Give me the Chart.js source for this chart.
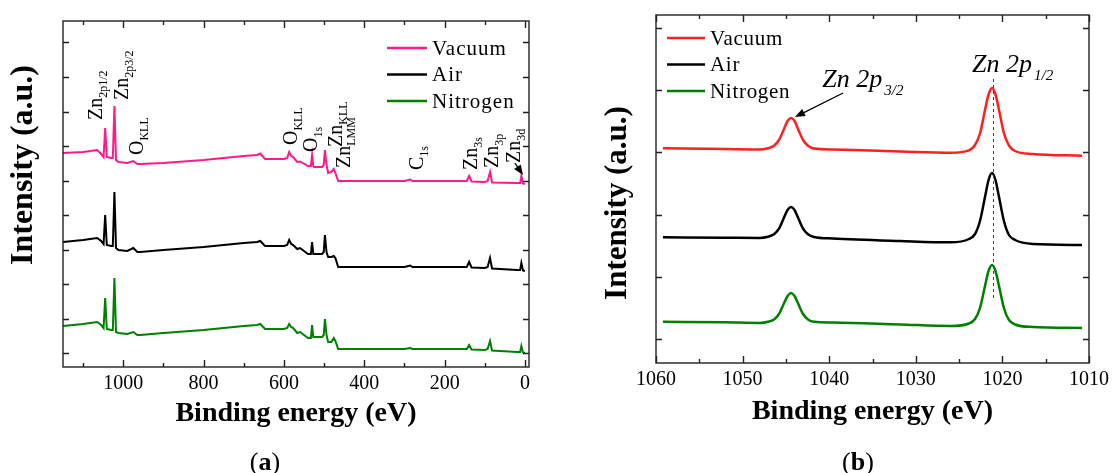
<!DOCTYPE html>
<html>
<head>
  <title>XPS spectra - ZnO films annealed in vacuum, air and nitrogen</title>
  <script src="https://cdn.jsdelivr.net/npm/chart.js"></script>
  <style>
    body {
      margin: 0;
      background: #fff;
    }

    .panel {
      position: absolute;
      top: 0;
      width: 556px;
      height: 473px;
    }

    #panelA { left: 0; }
    #panelB { left: 556px; }
  </style>
</head>
<body>
  <div class="panel" id="panelA"><canvas id="survey"></canvas></div>
  <div class="panel" id="panelB"><canvas id="zn2p"></canvas></div>

  <script>
    // (a) survey scan, binding energy in eV, intensity in arbitrary units
    const surveyEnergy = [1150, 1100, 1065, 1055, 1049, 1045, 1041, 1030, 1026, 1022,
      1018, 1012, 990, 975, 965, 958, 900, 800, 700, 667,
      659, 647, 600, 592, 587, 582, 577, 567, 560, 540,
      533, 530, 527, 525, 505, 501, 498, 494, 490, 482,
      476, 472, 465, 400, 300, 286, 280, 200, 145, 139,
      133, 100, 93, 87, 82, 20, 12, 9, 5, 0];
    const surveyVacuum = [200, 201, 203, 199, 196, 225, 196, 195, 195, 247,
      193, 191, 190, 192, 189, 189, 190, 193, 197, 198,
      199.5, 194, 194, 195, 201, 197, 196, 191, 191.5, 187,
      187, 198, 187, 186, 186, 188, 203, 188, 180, 181,
      184, 180, 172, 172, 172, 173.5, 172, 172, 172, 177,
      171.5, 171, 172, 181, 170.5, 170, 170, 177, 169.5, 169];
    const surveyAir = [111, 113, 115, 112, 109, 138, 108, 107, 107, 161,
      105, 103, 102, 105, 101, 101, 103, 106, 110, 111,
      112, 107, 107, 108, 113, 109, 108, 104, 105, 99,
      99, 111, 99, 99, 99, 101, 118, 101, 96, 96,
      97, 95, 86, 86, 86, 87.5, 86, 86, 86, 91,
      85.5, 85, 86, 95, 84.5, 83, 83, 90, 82.5, 82];
    const surveyNitrogen = [27, 29, 31, 28, 25, 55, 24, 23, 23, 75,
      21, 20, 19, 21, 18, 18, 20, 23, 27, 28,
      29, 24, 24, 25, 29, 26, 25, 20, 21, 15,
      15, 28, 16, 16, 16, 18, 34, 18, 11, 11,
      15, 12, 4, 4, 4, 5, 4, 4, 4, 8,
      3.5, 3, 4, 12, 2.5, 1, 1, 7, 0.5, 0];
    const surveyTicks = [0, 100, 200, 300, 400, 500, 600, 700, 800, 900, 1000, 1100];
    const surveyTickLabels = [0, 200, 400, 600, 800, 1000];
    const surveyLevels = [0, 34.5, 69, 103.5, 138, 172.5, 207, 241.5, 276, 310.5];

    // (b) Zn 2p region
    const zn2pEnergy = [1059.2, 1052, 1048, 1047.07, 1046.37, 1045.8, 1045.22, 1044.81, 1044.41, 1044.0,
      1043.6, 1043.02, 1042.45, 1041.75, 1039.6, 1031.8, 1026, 1023.86, 1023.16, 1022.59,
      1022.01, 1021.6, 1021.2, 1020.8, 1020.39, 1019.81, 1019.24, 1018.54, 1016.5, 1010.8];
    const zn2pVacuum = [190.7, 190, 189.5, 190.8, 193.3, 199, 210, 218, 221, 218,
      210, 199, 193.3, 190.5, 189.5, 187.5, 186.2, 188.6, 194, 205.5,
      229, 244.5, 251, 244.5, 229, 205.5, 193.5, 188, 185, 183.3];
    const zn2pAir = [101.7, 101.3, 101, 102.2, 104.7, 110.3, 121.4, 129, 132, 129,
      121.4, 110.3, 104.7, 102, 100.5, 98, 96.7, 100, 105, 118,
      142, 159, 166, 159, 142, 117.5, 104, 99, 95, 94];
    const zn2pNitrogen = [17.3, 16.7, 16, 17.2, 19.6, 25, 35.7, 43, 46, 43,
      35.7, 25, 19.6, 17.2, 16.5, 14.5, 13, 15.5, 20, 31,
      53, 68, 74, 68, 53, 30.5, 19, 14.5, 12, 11];
    const zn2pTicks = [1010, 1015, 1020, 1025, 1030, 1035, 1040, 1045, 1050, 1055, 1060];
    const zn2pTickLabels = [1010, 1020, 1030, 1040, 1050, 1060];
    const zn2pLevels = [0, 62.2, 124.4, 186.6, 248.8, 311];

    const seriesNames = ['Vacuum', 'Air', 'Nitrogen'];

    // peak assignments on the survey, anchored at (energy, intensity)
    const surveyPeakLabels = [
      { text: 'Zn', sub: '2p1/2', e: 1052, i: 233 },
      { text: 'Zn', sub: '2p3/2', e: 988, i: 253 },
      { text: 'O', sub: 'KLL', e: 950, i: 198 },
      { text: 'O', sub: 'KLL', e: 567, i: 208 },
      { text: 'O', sub: '1s', e: 517, i: 201 },
      { text: 'Zn', sub: 'KLL', e: 455, i: 206 },
      { text: 'Zn', sub: 'LMM', e: 435, i: 185 },
      { text: 'C', sub: '1s', e: 254, i: 183 },
      { text: 'Zn', sub: '3s', e: 119, i: 183 },
      { text: 'Zn', sub: '3p', e: 67, i: 185 },
      { text: 'Zn', sub: '3d', e: 12, i: 190 }
    ];
    const zn2pPeakLabels = [
      { text: 'Zn 2p', sub: '3/2', e: 1040.8, i: 252 },
      { text: 'Zn 2p', sub: '1/2', e: 1023.5, i: 267 }
    ];

    const serif = '"Liberation Serif", "Times New Roman", serif';
    Chart.defaults.font.family = serif;
    Chart.defaults.color = '#000';

    function arrow(ctx, x1, y1, x2, y2) {
      const a = Math.atan2(y2 - y1, x2 - x1);
      ctx.beginPath();
      ctx.moveTo(x1, y1);
      ctx.lineTo(x2 - 6 * Math.cos(a), y2 - 6 * Math.sin(a));
      ctx.stroke();
      ctx.beginPath();
      ctx.moveTo(x2, y2);
      ctx.lineTo(x2 - 10 * Math.cos(a) + 4 * Math.sin(a), y2 - 10 * Math.sin(a) - 4 * Math.cos(a));
      ctx.lineTo(x2 - 10 * Math.cos(a) - 4 * Math.sin(a), y2 - 10 * Math.sin(a) + 4 * Math.cos(a));
      ctx.closePath();
      ctx.fill();
    }

    // frame with inward ticks, legend, labels and the other decorations
    const decor = {
      id: 'decor',
      afterDatasetsDraw(chart, args, o) {
        const ctx = chart.ctx;
        const { left, right, top, bottom } = chart.chartArea;
        const xs = chart.scales.x, ys = chart.scales.y;
        ctx.save();

        // dashed guide lines
        ctx.strokeStyle = '#444';
        ctx.lineWidth = 1;
        ctx.setLineDash([3, 3]);
        (o.guides || []).forEach(g => {
          const px = Math.round(xs.getPixelForValue(g.e)) + 0.5;
          ctx.beginPath();
          ctx.moveTo(px, ys.getPixelForValue(g.from));
          ctx.lineTo(px, ys.getPixelForValue(g.to));
          ctx.stroke();
        });
        ctx.setLineDash([]);

        // frame and ticks
        ctx.strokeStyle = '#222';
        ctx.lineWidth = 1.4;
        ctx.beginPath();
        xs.ticks.forEach(t => {
          const px = Math.round(xs.getPixelForValue(t.value)) + 0.5;
          const len = o.majorX.includes(t.value) ? 7 : 4;
          ctx.moveTo(px, bottom);
          ctx.lineTo(px, bottom - len);
          ctx.moveTo(px, top);
          ctx.lineTo(px, top + len);
        });
        ys.ticks.forEach(t => {
          const py = Math.round(ys.getPixelForValue(t.value)) + 0.5;
          ctx.moveTo(left, py);
          ctx.lineTo(left + 6, py);
          ctx.moveTo(right, py);
          ctx.lineTo(right - 6, py);
        });
        ctx.stroke();
        ctx.strokeRect(left, top, right - left, bottom - top);

        // legend
        const L = o.legend;
        chart.data.datasets.forEach((ds, k) => {
          const y = top + L.y + k * L.row;
          ctx.strokeStyle = ds.borderColor;
          ctx.lineWidth = 2.5;
          ctx.beginPath();
          ctx.moveTo(left + L.x, y);
          ctx.lineTo(left + L.x + L.len, y);
          ctx.stroke();
          ctx.fillStyle = '#000';
          ctx.font = L.size + 'px ' + serif;
          ctx.letterSpacing = L.spacing;
          ctx.textAlign = 'left';
          ctx.textBaseline = 'middle';
          ctx.fillText(ds.label, left + L.x + L.len + 5, y + 1);
          ctx.letterSpacing = '0px';
        });

        // peak labels with subscripts
        const S = o.labelStyle;
        ctx.fillStyle = '#000';
        o.labels.forEach(lab => {
          ctx.save();
          ctx.translate(xs.getPixelForValue(lab.e), ys.getPixelForValue(lab.i));
          if (S.rotate) ctx.rotate(-Math.PI / 2);
          ctx.textAlign = 'left';
          ctx.textBaseline = 'alphabetic';
          ctx.font = S.style + ' ' + S.size + 'px ' + serif;
          ctx.fillText(lab.text, 0, 0);
          const w = ctx.measureText(lab.text).width;
          ctx.font = S.style + ' ' + S.subSize + 'px ' + serif;
          ctx.fillText(lab.sub, w + S.gap, S.drop);
          ctx.restore();
        });

        // arrows
        ctx.strokeStyle = '#000';
        ctx.fillStyle = '#000';
        ctx.lineWidth = 1.3;
        (o.arrows || []).forEach(a => {
          arrow(ctx, xs.getPixelForValue(a.from[0]), ys.getPixelForValue(a.from[1]),
            xs.getPixelForValue(a.to[0]), ys.getPixelForValue(a.to[1]));
        });

        // rotated y title
        ctx.save();
        ctx.translate(o.yTitle.x, o.yTitle.y);
        ctx.rotate(-Math.PI / 2);
        ctx.font = 'bold ' + o.yTitle.size + 'px ' + serif;
        ctx.textAlign = 'center';
        ctx.textBaseline = 'middle';
        ctx.fillText('Intensity (a.u.)', 0, 0);
        ctx.restore();

        // panel caption, e.g. "(a)" with a bold letter
        const C = o.caption;
        ctx.textBaseline = 'middle';
        ctx.textAlign = 'left';
        ctx.font = '26px ' + serif;
        const wp = ctx.measureText('(').width;
        ctx.font = 'bold 26px ' + serif;
        const wl = ctx.measureText(C.letter).width;
        let cx = C.x - (2 * wp + wl) / 2;
        ctx.font = '26px ' + serif;
        ctx.fillText('(', cx, C.y);
        ctx.font = 'bold 26px ' + serif;
        ctx.fillText(C.letter, cx + wp, C.y);
        ctx.font = '26px ' + serif;
        ctx.fillText(')', cx + wp + wl, C.y);

        ctx.restore();
      }
    };

    function points(xs, ys) {
      return xs.map((x, i) => ({ x: x, y: ys[i] }));
    }

    function makeChart(id, cfg) {
      const ctx = document.getElementById(id).getContext('2d');
      return new Chart(ctx, {
        type: 'line',
        data: {
          datasets: cfg.series.map((s, k) => ({
            label: seriesNames[k],
            data: points(cfg.energy, s),
            borderColor: cfg.colors[k],
            borderWidth: cfg.lineWidth,
            pointRadius: 0,
            fill: false,
            cubicInterpolationMode: cfg.smooth ? 'monotone' : 'default',
            tension: 0
          }))
        },
        options: {
          responsive: true,
          maintainAspectRatio: false,
          animation: false,
          events: [],
          layout: { padding: cfg.padding },
          scales: {
            x: {
              type: 'linear',
              reverse: true,
              min: cfg.xMin,
              max: cfg.xMax,
              grid: { display: false, drawTicks: false },
              border: { display: false },
              afterBuildTicks: axis => { axis.ticks = cfg.xTicks.map(v => ({ value: v })); },
              ticks: {
                autoSkip: false,
                maxRotation: 0,
                padding: 5,
                font: { size: 20 },
                callback: v => cfg.xLabels.includes(v) ? String(v) : ''
              },
              title: {
                display: true,
                text: 'Binding energy (eV)',
                font: { size: 28, weight: 'bold' },
                padding: { top: 0, bottom: cfg.titlePad }
              },
              afterFit: s => { s.height = cfg.xHeight; }
            },
            y: {
              type: 'linear',
              min: cfg.yMin,
              max: cfg.yMax,
              grid: { display: false, drawTicks: false },
              border: { display: false },
              ticks: { display: false },
              afterBuildTicks: axis => { axis.ticks = cfg.yTicks.map(v => ({ value: v })); },
              afterFit: s => { s.width = cfg.yWidth; }
            }
          },
          plugins: {
            legend: { display: false },
            tooltip: { enabled: false },
            decor: cfg.decor
          }
        },
        plugins: [decor]
      });
    }

    makeChart('survey', {
      energy: surveyEnergy,
      series: [surveyVacuum, surveyAir, surveyNitrogen],
      colors: ['#ff1a8c', '#000000', '#008000'],
      lineWidth: 2,
      smooth: false,
      xMin: -10, xMax: 1150,
      yMin: -14, yMax: 332,
      xTicks: surveyTicks,
      xLabels: surveyTickLabels,
      yTicks: surveyLevels,
      padding: { left: 0, top: 21, right: 27, bottom: 0 },
      xHeight: 106,
      yWidth: 63,
      titlePad: 42,
      decor: {
        majorX: surveyTickLabels,
        legend: { x: 324, y: 27, row: 26.5, len: 40, size: 21, spacing: '1px' },
        labelStyle: { rotate: true, style: 'normal', size: 20, subSize: 12, gap: 0, drop: 5 },
        labels: surveyPeakLabels,
        arrows: [{ from: [25, 190], to: [5, 178] }],
        yTitle: { x: 24, y: 165, size: 32 },
        caption: { x: 265, y: 463, letter: 'a' }
      }
    });

    makeChart('zn2p', {
      energy: zn2pEnergy,
      series: [zn2pVacuum, zn2pAir, zn2pNitrogen],
      colors: ['#ff1f1f', '#000000', '#008000'],
      lineWidth: 2.5,
      smooth: true,
      xMin: 1010, xMax: 1060,
      yMin: -24, yMax: 324,
      xTicks: zn2pTicks,
      xLabels: zn2pTickLabels,
      yTicks: zn2pLevels,
      padding: { left: 0, top: 15, right: 23, bottom: 0 },
      xHeight: 110,
      yWidth: 100,
      titlePad: 44,
      decor: {
        majorX: zn2pTickLabels,
        legend: { x: 11, y: 23, row: 26.5, len: 38, size: 21, spacing: '0.7px' },
        labelStyle: { rotate: false, style: 'italic', size: 26, subSize: 15, gap: 2, drop: 8 },
        labels: zn2pPeakLabels,
        arrows: [{ from: [1038.4, 246], to: [1043.95, 222] }],
        guides: [{ e: 1021.1, from: 41, to: 261 }],
        yTitle: { x: 62, y: 203, size: 31 },
        caption: { x: 302, y: 463, letter: 'b' }
      }
    });
  </script>
</body>
</html>
